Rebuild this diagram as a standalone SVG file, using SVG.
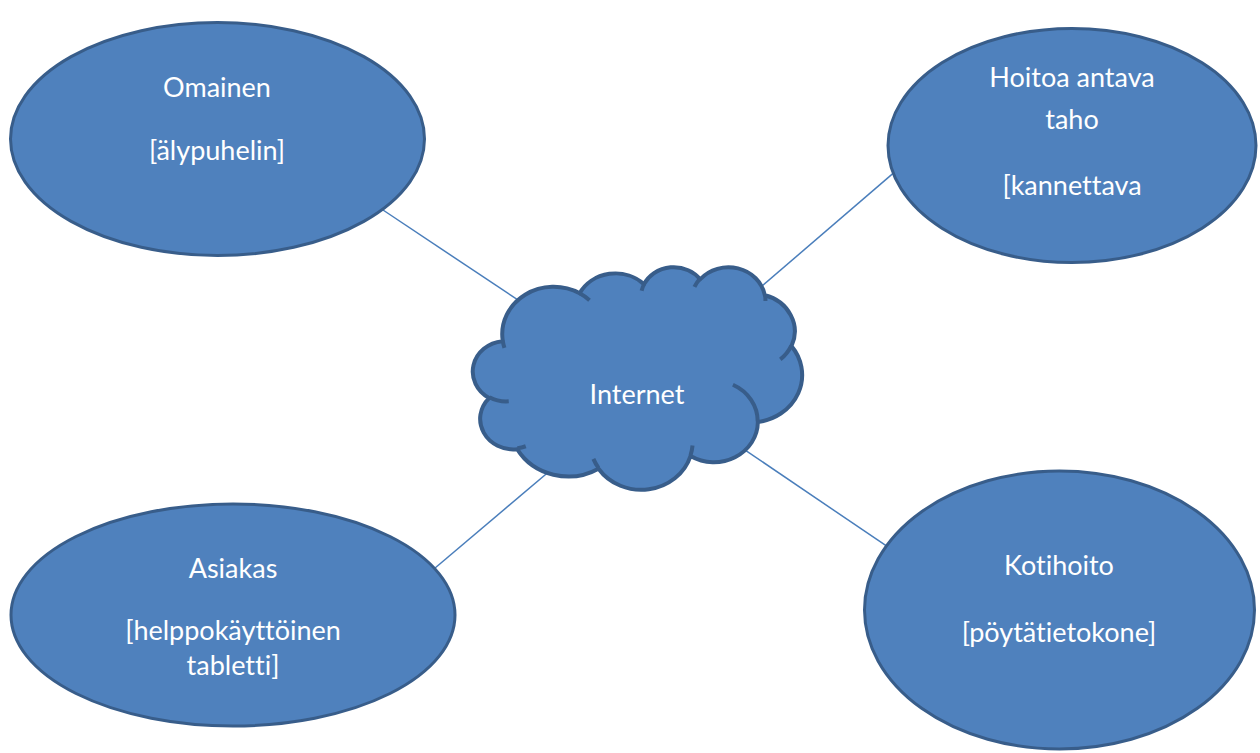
<svg xmlns="http://www.w3.org/2000/svg" width="1260" height="753" viewBox="0 0 1260 753">
  <style>
    .node { fill: #4F81BD; stroke: #385D8A; stroke-width: 3; }
    .cloud { fill: #4F81BD; stroke: #385D8A; stroke-width: 4; stroke-linejoin: round; }
    .cloud-inner { fill: none; stroke: #385D8A; stroke-width: 4; }
    .link { stroke: #4A7EBB; stroke-width: 1.5; fill: none; }
    .label { font-family: Lato, "Open Sans", "Liberation Sans", sans-serif; font-size: 27px; fill: #FFFFFF; text-anchor: middle; font-variant-ligatures: none; }
  </style>
  <rect width="1260" height="753" fill="#FFFFFF"/>

  <!-- connectors from each device to the cloud -->
  <g id="connectors">
    <line class="link" x1="380" y1="208" x2="522" y2="302.7"/>
    <line class="link" x1="898" y1="169.1" x2="758" y2="289.5"/>
    <line class="link" x1="433" y1="569.8" x2="550" y2="470.7"/>
    <line class="link" x1="740" y1="446.6" x2="889" y2="547.7"/>
  </g>

  <g id="internet">
    <g transform="translate(473,266.5) scale(0.0076157,0.0051505)">
      <path class="cloud" vector-effect="non-scaling-stroke" d="M3900,14370 A6753,9190 0 0,1 14005,5202 A5333,7267 0 0,1 22456,3430 A4365,5945 0 0,1 29834,2479 A4857,6595 0 0,1 38320,5573 A5333,7273 0 0,1 41820,15457 A6775,9220 0 0,1 37405,30198 A5785,7867 0 0,1 28557,36809 A6752,9215 0 0,1 16482,39262 A7720,10543 0 0,1 5806,35465 A4360,5918 0 0,1 2115,25543 A4345,5945 0 0,1 3865,14500 Z"/>
      <path class="cloud-inner" vector-effect="non-scaling-stroke" d="M4693,26177 A4345,5945 0 0,1 2159,25379 M6928,34899 A4360,5918 0 0,1 5820,35280 M16478,39090 A6752,9215 0 0,1 15809,37347 M28827,34751 A6752,9215 0 0,1 28560,36660 M34129,22954 A5785,7867 0 0,1 37380,30090 M41798,15354 A5333,7273 0 0,1 40350,18030 M38324,5426 A4857,6595 0 0,1 38400,6690 M29078,3952 A4857,6595 0 0,1 29820,2340 M22141,4720 A4365,5945 0 0,1 22500,3331 M14000,5192 A6753,9190 0 0,1 15300,6540 M4127,15789 A6753,9190 0 0,1 3900,14370"/>
    </g>
    <text class="label" x="637" y="404">Internet</text>
  </g>

  <g id="omainen">
    <ellipse class="node" cx="217.5" cy="139" rx="207" ry="116.5"/>
    <text class="label" x="217" y="97">Omainen</text>
    <text class="label" x="217" y="160">[älypuhelin]</text>
  </g>

  <g id="hoitoa-antava-taho">
    <ellipse class="node" cx="1072" cy="145.5" rx="184" ry="117"/>
    <text class="label" x="1072" y="87">Hoitoa antava</text>
    <text class="label" x="1072" y="129">taho</text>
    <text class="label" x="1072" y="195">[kannettava</text>
  </g>

  <g id="asiakas">
    <ellipse class="node" cx="233" cy="615" rx="222" ry="111"/>
    <text class="label" x="233" y="578">Asiakas</text>
    <text class="label" x="233" y="640">[helppokäyttöinen</text>
    <text class="label" x="233" y="675">tabletti]</text>
  </g>

  <g id="kotihoito">
    <ellipse class="node" cx="1059.5" cy="610" rx="195" ry="139"/>
    <text class="label" x="1059" y="575">Kotihoito</text>
    <text class="label" x="1059" y="642">[pöytätietokone]</text>
  </g>
</svg>
